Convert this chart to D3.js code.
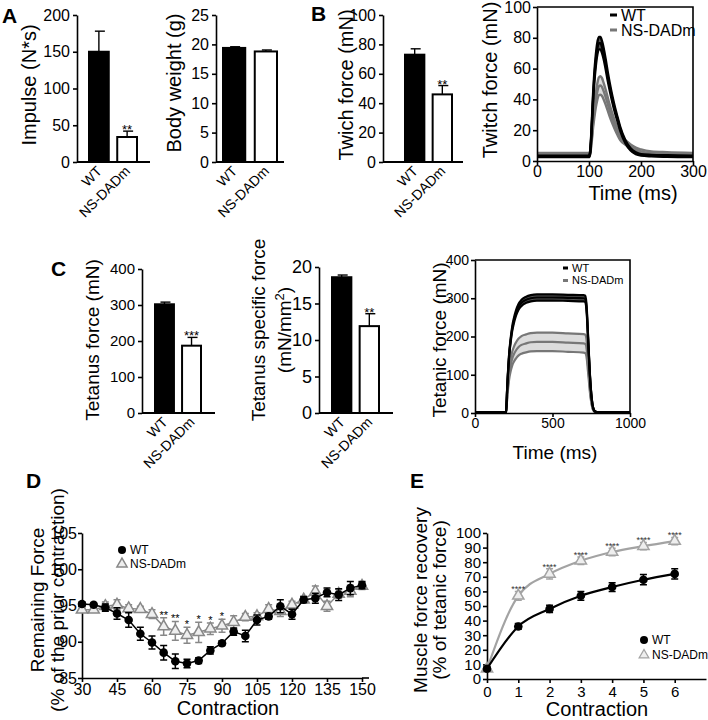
<!DOCTYPE html>
<html>
<head>
<meta charset="utf-8">
<script src="https://cdn.jsdelivr.net/npm/d3@7"></script>
<style>
  body { margin: 0; background: #fff; }
  svg { font-family: "Liberation Sans", Arial, sans-serif; }
</style>
</head>
<body>
<script>
// ---- data ----
var groups = ["WT", "NS-DADm"];

var impulseMean = [150, 34];
var impulseErr = [28, 8];
var bodyWeightMean = [19.4, 18.8];
var bodyWeightErr = [0.2, 0.25];
var twitchBarMean = [73, 46];
var twitchBarErr = [4, 6];
var tetanusMean = [302, 187];
var tetanusErr = [6, 23];
var specificMean = [18.6, 11.9];
var specificErr = [0.3, 1.7];

// twitch traces (mean and SEM)
var twitchTime = [0, 50, 100, 102, 104, 106, 108, 110, 113, 116, 119, 122, 125, 128, 132, 136, 140, 145, 150, 155, 160, 170, 180, 190, 200, 220, 250, 300];
var twitchWT = [3, 3, 3, 5, 14, 28, 42, 53, 65, 73, 76.5, 76.5, 74, 70, 63, 55, 48, 40, 33, 27, 21, 12.5, 7.5, 5, 4, 3.5, 3.2, 3];
var twitchWTsem = [0.5, 0.5, 0.5, 0.6, 1.2, 2, 2.6, 3, 3.5, 3.8, 4, 4, 3.8, 3.6, 3.2, 2.8, 2.4, 2, 1.7, 1.4, 1.2, 0.9, 0.7, 0.6, 0.5, 0.5, 0.5, 0.5];
var twitchNS = [4, 4, 4, 5, 10, 17, 25, 31, 39, 45, 48.5, 49, 48, 45.5, 41.5, 37, 32.5, 27.5, 23, 19, 15.5, 12, 9.5, 7.5, 6.3, 5, 4.5, 4];
var twitchNSsem = [1.2, 1.2, 1.2, 1.2, 1.5, 2, 2.8, 3.5, 4.5, 5.3, 5.8, 6, 5.8, 5.4, 4.9, 4.3, 3.8, 3.2, 2.7, 2.3, 1.9, 1.5, 1.3, 1.2, 1.2, 1.2, 1.2, 1.2];

// tetanic traces (mean and SEM)
var tetanicTime = [0, 195, 200, 203, 206, 210, 215, 220, 230, 240, 250, 265, 280, 300, 330, 360, 400, 500, 600, 700, 710, 716, 722, 728, 735, 742, 750, 758, 766, 775, 790, 850, 1000];
var tetanicWT = [2, 2, 3, 20, 50, 85, 120, 150, 190, 220, 240, 262, 277, 288, 296, 300, 302, 302, 301, 300, 299, 290, 260, 210, 150, 95, 50, 22, 9, 4, 2, 2, 2];
var tetanicWTsem = [0.5, 0.5, 0.5, 1, 1.5, 2.5, 3.5, 4, 5, 6, 6.5, 7, 7.5, 8, 8, 8, 8, 8, 8, 8, 8, 7.8, 7, 5.6, 4, 2.5, 1.3, 0.6, 0.5, 0.5, 0.5, 0.5, 0.5];
var tetanicNS = [2, 2, 3, 14, 32, 55, 80, 100, 125, 142, 153, 164, 172, 178, 182, 185, 186, 186, 184, 182, 181, 177, 160, 130, 95, 60, 32, 14, 6, 3, 2, 2, 2];
var tetanicNSsem = [0.5, 0.5, 0.5, 2, 4, 7, 10, 12.5, 16, 18, 19.5, 21, 22, 23, 23.5, 24, 24, 24, 24, 24, 24, 23.5, 21, 17, 12.5, 8, 4, 1.8, 0.8, 0.5, 0.5, 0.5, 0.5];

// fatigue (D)
var contraction = [30, 35, 40, 45, 50, 55, 60, 65, 70, 75, 80, 85, 90, 95, 100, 105, 110, 115, 120, 125, 130, 135, 140, 145, 150];
var fatigueWT = [95.2, 95.1, 94.7, 93.9, 93.0, 91.1, 89.9, 88.5, 87.3, 87.0, 87.4, 88.8, 89.8, 91.4, 90.8, 93.0, 93.5, 94.9, 93.8, 95.8, 96.0, 96.8, 96.5, 97.4, 97.8];
var fatigueWTerr = [0.3, 0.2, 0.5, 0.8, 1.0, 0.9, 0.9, 1.0, 1.0, 0.6, 0.4, 0.5, 0.3, 0.5, 0.8, 0.7, 0.4, 0.9, 0.7, 0.4, 0.7, 0.6, 0.8, 0.9, 0.5];
var fatigueNS = [94.4, 94.4, 94.9, 95.1, 94.6, 94.5, 93.8, 92.1, 91.5, 90.9, 91.3, 91.8, 92.2, 92.7, 93.4, 93.5, 94.5, 94.2, 95.1, 95.8, 96.9, 94.9, 96.6, 97.0, 97.7];
var fatigueNSerr = [0.3, 0.3, 0.6, 0.7, 0.5, 0.4, 0.6, 1.2, 1.3, 1.1, 1.4, 0.8, 0.9, 0.9, 0.5, 0.5, 0.6, 0.7, 0.5, 0.5, 0.8, 0.7, 0.6, 0.8, 0.5];
var fatigueStarC = [65, 70, 75, 80, 85, 90];
var fatigueStars = ["**", "**", "*", "*", "*", "*"];

// recovery (E)
var recoveryContr = [0, 1, 2, 3, 4, 5, 6];
var recoveryWT = [7, 36, 48, 57, 63, 68, 72];
var recoveryWTerr = [1.5, 2, 2.5, 3, 3, 3.5, 3.5];
var recoveryNS = [7, 57, 72, 81, 87, 91, 94.5];
var recoveryNSerr = [1.5, 3, 3.5, 2.5, 2.5, 2.5, 2.5];
var recoveryStars = ["", "****", "****", "****", "****", "****", "****"];

// ---- drawing ----
var svg = d3.select("body").append("svg")
    .attr("width", 708)
    .attr("height", 720);

var intFmt = d3.format("d");

function styleAxis(g, fs) {
    g.selectAll("path, line").attr("stroke", "#000").attr("stroke-width", 1.6);
    g.selectAll("text").attr("font-size", fs).attr("fill", "#000");
}

function yTitle(lines, x, y, fs) {
    lines.forEach(function(l, i) {
        svg.append("text")
            .attr("transform", "translate(" + l.x + "," + y + ") rotate(-90)")
            .attr("text-anchor", "middle")
            .attr("font-size", fs)
            .text(l.t);
    });
}

function panelLetter(t, x, y) {
    svg.append("text").attr("x", x).attr("y", y)
        .attr("font-size", 21).attr("font-weight", "bold").text(t);
}

function barPanel(o) {
    var y = d3.scaleLinear().domain([0, o.max]).range([o.y0, o.y1]);
    var x = d3.scaleBand().domain(groups).range(o.bars).paddingInner(0.3);
    var g = svg.append("g");

    var ya = g.append("g")
        .attr("transform", "translate(" + o.axisX + ",0)")
        .call(d3.axisLeft(y).ticks(o.nticks).tickSize(4).tickSizeOuter(0).tickPadding(3));
    styleAxis(ya, o.fs || 16);

    g.append("line")
        .attr("x1", o.axisX).attr("x2", o.axisEnd)
        .attr("y1", y(0)).attr("y2", y(0))
        .attr("stroke", "#000").attr("stroke-width", 2);

    // error bars (upper only)
    g.selectAll(".err").data(o.means).join("line")
        .attr("x1", function(d, i) { return x(groups[i]) + x.bandwidth() / 2; })
        .attr("x2", function(d, i) { return x(groups[i]) + x.bandwidth() / 2; })
        .attr("y1", function(d) { return y(d); })
        .attr("y2", function(d, i) { return y(d + o.errs[i]); })
        .attr("stroke", "#000").attr("stroke-width", 1.4);
    g.selectAll(".cap").data(o.means).join("line")
        .attr("x1", function(d, i) { return x(groups[i]) + x.bandwidth() / 2 - 4; })
        .attr("x2", function(d, i) { return x(groups[i]) + x.bandwidth() / 2 + 6; })
        .attr("y1", function(d, i) { return y(d + o.errs[i]); })
        .attr("y2", function(d, i) { return y(d + o.errs[i]); })
        .attr("stroke", "#000").attr("stroke-width", 1.4);

    g.selectAll("rect").data(o.means).join("rect")
        .attr("x", function(d, i) { return x(groups[i]); })
        .attr("y", function(d) { return y(d); })
        .attr("width", x.bandwidth())
        .attr("height", function(d) { return y(0) - y(d); })
        .attr("fill", function(d, i) { return i ? "#fff" : "#000"; })
        .attr("stroke", "#000").attr("stroke-width", 2);

    if (o.star) {
        g.append("text")
            .attr("x", x(groups[1]) + x.bandwidth() / 2)
            .attr("y", y(o.means[1] + o.errs[1]) + 3)
            .attr("text-anchor", "middle")
            .attr("font-size", 13)
            .text(o.star);
    }

    g.selectAll(".xl").data(groups).join("text")
        .attr("transform", function(d) {
            return "translate(" + (x(d) + x.bandwidth() / 2 + 4) + "," + (y(0) + 10) + ") rotate(-45)";
        })
        .attr("text-anchor", "end")
        .attr("font-size", 14)
        .text(function(d) { return d; });
}

function tracePanel(o) {
    var x = d3.scaleLinear().domain(o.xDomain).range(o.xRange);
    var y = d3.scaleLinear().domain(o.yDomain).range(o.yRange);
    var g = svg.append("g");

    var series = [
        { m: o.ns, s: o.nsSem, line: "#777", fill: "#dcdcdc" },
        { m: o.wt, s: o.wtSem, line: "#000", fill: "#555" }
    ];

    series.forEach(function(sr) {
        var pts = o.time.map(function(t, i) { return { t: t, m: sr.m[i], s: sr.s[i] }; });
        g.append("path").datum(pts)
            .attr("d", d3.area().curve(d3.curveMonotoneX)
                .x(function(d) { return x(d.t); })
                .y0(function(d) { return y(d.m - d.s); })
                .y1(function(d) { return y(d.m + d.s); }))
            .attr("fill", sr.fill);
        [-1, 0, 1].forEach(function(k) {
            g.append("path").datum(pts)
                .attr("d", d3.line().curve(d3.curveMonotoneX)
                    .x(function(d) { return x(d.t); })
                    .y(function(d) { return y(d.m + k * d.s); }))
                .attr("fill", "none")
                .attr("stroke", sr.line)
                .attr("stroke-width", o.lw || 2.4);
        });
    });

    var ya = g.append("g").attr("transform", "translate(" + o.xRange[0] + ",0)")
        .call(d3.axisLeft(y).ticks(o.yTicks).tickFormat(intFmt).tickSize(4).tickSizeOuter(0).tickPadding(2));
    styleAxis(ya, o.fs);
    var xa = g.append("g").attr("transform", "translate(0," + o.yRange[0] + ")")
        .call(d3.axisBottom(x).ticks(o.xTicks).tickFormat(intFmt).tickSize(4).tickSizeOuter(0).tickPadding(1));
    styleAxis(xa, o.fs);

    g.append("path")
        .attr("d", "M" + o.xRange[0] + "," + o.yRange[1] + "H" + o.xRange[1] + "V" + o.yRange[0])
        .attr("fill", "none").attr("stroke", "#000").attr("stroke-width", 1.6);

    // legend
    var lg = g.append("g").attr("font-size", o.legFs);
    groups.forEach(function(name, i) {
        var ly = o.leg[1] + i * o.legGap;
        lg.append("line")
            .attr("x1", o.leg[0]).attr("x2", o.leg[0] + o.legLen)
            .attr("y1", ly).attr("y2", ly)
            .attr("stroke", i ? "#777" : "#000").attr("stroke-width", 3);
        lg.append("text").attr("x", o.leg[0] + o.legLen + 4).attr("y", ly)
            .attr("dy", "0.35em").text(name);
    });

    svg.append("text").attr("x", o.xt[0]).attr("y", o.xt[1])
        .attr("text-anchor", "middle").attr("font-size", o.xtFs)
        .text("Time (ms)");
}

function errLines(g, xs, ms, es, x, y, color, cap) {
    g.selectAll(null).data(ms).join("path")
        .attr("d", function(d, i) {
            var cx = x(xs[i]), t = y(d + es[i]), b = y(d - es[i]);
            return "M" + cx + "," + t + "V" + b +
                "M" + (cx - cap) + "," + t + "H" + (cx + cap) +
                "M" + (cx - cap) + "," + b + "H" + (cx + cap);
        })
        .attr("stroke", color).attr("stroke-width", 1.5).attr("fill", "none");
}

// ---- Panel A ----
panelLetter("A", 2, 23);
barPanel({ means: impulseMean, errs: impulseErr, max: 200, nticks: 4, y0: 162, y1: 15,
    axisX: 77, axisEnd: 150, bars: [89, 137], star: "**" });
yTitle([{ t: "Impulse (N*s)", x: 36 }], 0, 85, 20);
barPanel({ means: bodyWeightMean, errs: bodyWeightErr, max: 25, nticks: 5, y0: 162, y1: 15,
    axisX: 216, axisEnd: 284, bars: [223, 277] });
yTitle([{ t: "Body weight (g)", x: 181 }], 0, 83, 20);

// ---- Panel B ----
panelLetter("B", 311, 21);
barPanel({ means: twitchBarMean, errs: twitchBarErr, max: 100, nticks: 5, y0: 162, y1: 15,
    axisX: 383, axisEnd: 463, bars: [405, 452], star: "**" });
yTitle([{ t: "Twich force (mN)", x: 353 }], 0, 85, 20);

tracePanel({ time: twitchTime, wt: twitchWT, wtSem: twitchWTsem, ns: twitchNS, nsSem: twitchNSsem,
    xDomain: [0, 300], xRange: [537, 693], yDomain: [0, 100], yRange: [161, 7],
    xTicks: 3, yTicks: 5, fs: 16, leg: [610, 15], legGap: 15, legLen: 7, legFs: 16,
    xt: [633, 200], xtFs: 20, lw: 2.4 });
yTitle([{ t: "Twitch force (mN)", x: 497 }], 0, 80, 20);

// ---- Panel C ----
panelLetter("C", 51, 276);
barPanel({ means: tetanusMean, errs: tetanusErr, max: 400, nticks: 4, y0: 413, y1: 269,
    axisX: 142, axisEnd: 215, bars: [155, 201], star: "***", fs: 15 });
yTitle([{ t: "Tetanus force (mN)", x: 99 }], 0, 340, 19);
barPanel({ means: specificMean, errs: specificErr, max: 20, nticks: 4, y0: 413, y1: 267,
    axisX: 319, axisEnd: 393, bars: [332, 379], star: "**", fs: 18 });
yTitle([{ t: "Tetanus specific force", x: 265 }], 0, 330, 19);
var spec = svg.append("text")
    .attr("transform", "translate(291,330) rotate(-90)")
    .attr("text-anchor", "middle").attr("font-size", 19);
spec.append("tspan").text("(mN/mm");
spec.append("tspan").attr("font-size", 13).attr("dy", -7).text("2");
spec.append("tspan").attr("dy", 7).text(")");

tracePanel({ time: tetanicTime, wt: tetanicWT, wtSem: tetanicWTsem, ns: tetanicNS, nsSem: tetanicNSsem,
    xDomain: [0, 1000], xRange: [475, 630], yDomain: [0, 400], yRange: [413, 260],
    xTicks: 2, yTicks: 4, fs: 14, leg: [563, 268], legGap: 12.5, legLen: 5, legFs: 11,
    xt: [555, 459], xtFs: 19, lw: 2.2 });
yTitle([{ t: "Tetanic force (mN)", x: 446 }], 0, 340, 19);

// ---- Panel D ----
panelLetter("D", 26, 488);
(function() {
    var x = d3.scaleLinear().domain([30, 150]).range([82, 362]);
    var y = d3.scaleLinear().domain([85, 105]).range([678, 533]);
    var g = svg.append("g");

    var ya = g.append("g").attr("transform", "translate(82,0)")
        .call(d3.axisLeft(y).tickValues([85, 90, 95, 100, 105]).tickSize(4).tickSizeOuter(0).tickPadding(1));
    styleAxis(ya, 16);
    var xa = g.append("g").attr("transform", "translate(0,678)")
        .call(d3.axisBottom(x).tickValues([30, 45, 60, 75, 90, 105, 120, 135, 150]).tickSize(4).tickSizeOuter(0).tickPadding(2));
    styleAxis(xa, 16);
    g.append("line").attr("x1", 362).attr("x2", 369).attr("y1", 678).attr("y2", 678)
        .attr("stroke", "#000").attr("stroke-width", 1.6);

    var gray = "#888";
    var lineFn = function(vals) {
        return d3.line().x(function(d, i) { return x(contraction[i]); }).y(function(d) { return y(d); })(vals);
    };
    errLines(g, contraction, fatigueNS, fatigueNSerr, x, y, gray, 3.5);
    g.append("path").attr("d", lineFn(fatigueNS)).attr("fill", "none").attr("stroke", gray).attr("stroke-width", 1.5);
    g.selectAll(".tri").data(fatigueNS).join("path")
        .attr("transform", function(d, i) { return "translate(" + x(contraction[i]) + "," + y(d) + ")"; })
        .attr("d", d3.symbol(d3.symbolTriangle, 55))
        .attr("fill", "#eee").attr("stroke", gray).attr("stroke-width", 1.5);

    errLines(g, contraction, fatigueWT, fatigueWTerr, x, y, "#000", 3.5);
    g.append("path").attr("d", lineFn(fatigueWT)).attr("fill", "none").attr("stroke", "#000").attr("stroke-width", 1.5);
    g.selectAll(".dot").data(fatigueWT).join("circle")
        .attr("cx", function(d, i) { return x(contraction[i]); })
        .attr("cy", function(d) { return y(d); })
        .attr("r", 4.3).attr("fill", "#000");

    g.selectAll(".star").data(fatigueStars).join("text")
        .attr("x", function(d, i) { return x(fatigueStarC[i]); })
        .attr("y", function(d, i) {
            var k = contraction.indexOf(fatigueStarC[i]);
            return y(fatigueNS[k] + fatigueNSerr[k]) + 1;
        })
        .attr("text-anchor", "middle").attr("font-size", 11).attr("fill", "#000")
        .text(function(d) { return d; });

    // legend
    g.append("circle").attr("cx", 122).attr("cy", 550).attr("r", 4).attr("fill", "#000");
    g.append("path").attr("transform", "translate(122,564)").attr("d", d3.symbol(d3.symbolTriangle, 45))
        .attr("fill", "#eee").attr("stroke", gray).attr("stroke-width", 1.5);
    g.append("text").attr("x", 130).attr("y", 550).attr("dy", "0.35em").attr("font-size", 12).text("WT");
    g.append("text").attr("x", 130).attr("y", 564).attr("dy", "0.35em").attr("font-size", 12).text("NS-DADm");

    svg.append("text").attr("x", 228).attr("y", 715).attr("text-anchor", "middle").attr("font-size", 20).text("Contraction");
})();
yTitle([{ t: "Remaining Force", x: 44 }, { t: "(% of the prior contraction)", x: 64 }], 0, 600, 19);

// ---- Panel E ----
panelLetter("E", 410, 488);
(function() {
    var x = d3.scaleLinear().domain([0, 7]).range([487, 706]);
    var y = d3.scaleLinear().domain([0, 100]).range([679, 533]);
    var g = svg.append("g");

    var ya = g.append("g").attr("transform", "translate(487,0)")
        .call(d3.axisLeft(y).ticks(10).tickSize(4).tickSizeOuter(0).tickPadding(2));
    styleAxis(ya, 15);
    var xa = g.append("g").attr("transform", "translate(0,679)")
        .call(d3.axisBottom(x).tickValues(recoveryContr).tickFormat(intFmt).tickSize(4).tickSizeOuter(0).tickPadding(3));
    styleAxis(xa, 15);

    var gray = "#a3a3a3";
    var lineFn = function(vals) {
        return d3.line().curve(d3.curveMonotoneX).x(function(d, i) { return x(recoveryContr[i]); }).y(function(d) { return y(d); })(vals);
    };
    errLines(g, recoveryContr, recoveryNS, recoveryNSerr, x, y, gray, 3.5);
    g.append("path").attr("d", lineFn(recoveryNS)).attr("fill", "none").attr("stroke", gray).attr("stroke-width", 2.2);
    g.selectAll(".tri").data(recoveryNS).join("path")
        .attr("transform", function(d, i) { return "translate(" + x(recoveryContr[i]) + "," + y(d) + ")"; })
        .attr("d", d3.symbol(d3.symbolTriangle, 55))
        .attr("fill", "#eee").attr("stroke", gray).attr("stroke-width", 1.5);

    errLines(g, recoveryContr, recoveryWT, recoveryWTerr, x, y, "#000", 3.5);
    g.append("path").attr("d", lineFn(recoveryWT)).attr("fill", "none").attr("stroke", "#000").attr("stroke-width", 2.2);
    g.selectAll(".dot").data(recoveryWT).join("circle")
        .attr("cx", function(d, i) { return x(recoveryContr[i]); })
        .attr("cy", function(d) { return y(d); })
        .attr("r", 4.3).attr("fill", "#000");

    g.selectAll(".star").data(recoveryStars).join("text")
        .attr("x", function(d, i) { return x(recoveryContr[i]); })
        .attr("y", function(d, i) { return y(recoveryNS[i] + recoveryNSerr[i]) + 1; })
        .attr("text-anchor", "middle").attr("font-size", 9).attr("fill", "#333")
        .text(function(d) { return d; });

    g.append("circle").attr("cx", 644).attr("cy", 640).attr("r", 4).attr("fill", "#000");
    g.append("path").attr("transform", "translate(644,655)").attr("d", d3.symbol(d3.symbolTriangle, 40))
        .attr("fill", "#eee").attr("stroke", gray).attr("stroke-width", 1.3);
    g.append("text").attr("x", 652).attr("y", 640).attr("dy", "0.35em").attr("font-size", 12).text("WT");
    g.append("text").attr("x", 652).attr("y", 655).attr("dy", "0.35em").attr("font-size", 12).text("NS-DADm");

    svg.append("text").attr("x", 597).attr("y", 716).attr("text-anchor", "middle").attr("font-size", 20).text("Contraction");
})();
yTitle([{ t: "Muscle force recovery", x: 427 }, { t: "(% of tetanic force)", x: 446 }], 0, 600, 19);
</script>
</body>
</html>
